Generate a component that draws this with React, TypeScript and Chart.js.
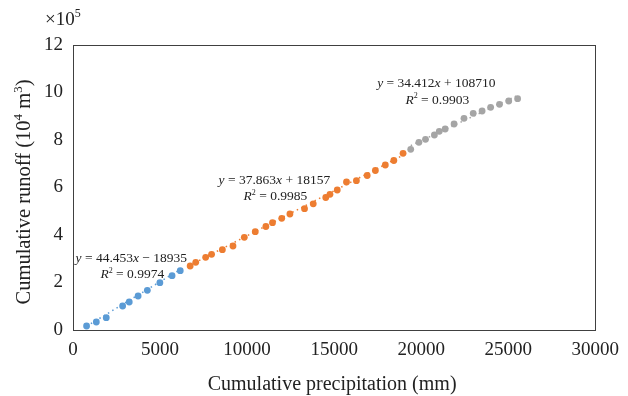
import { useEffect, useRef } from 'react';
import { Chart, registerables } from 'chart.js';

Chart.register(...registerables);

// ---- Data ----
const blueX = [780, 1340, 1910, 2850, 3230, 3740, 4270, 4990, 5690, 6160];
const blueY = [16800, 33700, 51800, 101000, 117900, 143200, 167200, 199200, 228600, 249700];

const orangeX = [6730, 7050, 7620, 7960, 8580, 9190, 9840, 10470, 11080, 11460, 11990, 12460, 13300, 13800, 14520, 14760, 15180, 15710, 16280, 16900, 17370, 17940, 18430, 18960];
const orangeY = [269500, 285100, 306100, 318700, 338100, 353700, 390300, 413900, 435800, 451800, 470300, 488400, 510700, 531400, 557900, 571400, 589500, 623200, 628600, 650500, 671600, 694700, 713700, 744000];

const grayX = [19400, 19870, 20250, 20760, 21040, 21380, 21890, 22460, 22990, 23500, 23990, 24500, 25030, 25540];
const grayY = [760800, 790300, 802900, 821100, 836600, 846300, 867400, 891400, 912400, 922100, 937700, 950300, 964200, 973900];

// Trendline equations (as printed)
const slopes = [44.453, 37.863, 34.412];
const intercepts = [-18935, 18157, 108710];
const r2Values = ['0.9974', '0.9985', '0.9903'];

// Equation label anchors (data coordinates)
const labelAnchorX = [3350, 11570, 20870];
const labelAnchorY = [288000, 615000, 1023000];

const xTickValues = [0, 5000, 10000, 15000, 20000, 25000, 30000];
const yTickLabels = ['0', '2', '4', '6', '8', '10', '12'];

const COLORS = ['#5B9BD5', '#ED7D31', '#A5A5A5'];
const FAMILY = '"Liberation Serif", "Times New Roman", serif';

type Run = { t: string; i?: boolean; sup?: boolean };

function drawRuns(
  ctx: CanvasRenderingContext2D,
  runs: Run[],
  x: number,
  y: number,
  size: number,
  color: string,
  align: 'center' | 'left' = 'center'
) {
  const fontOf = (r: Run) => `${r.i ? 'italic ' : ''}${r.sup ? Math.round(size * 0.62) : size}px ${FAMILY}`;
  let total = 0;
  const widths = runs.map((r) => {
    ctx.font = fontOf(r);
    const w = ctx.measureText(r.t).width;
    total += w;
    return w;
  });
  let cx = align === 'center' ? x - total / 2 : x;
  ctx.fillStyle = color;
  ctx.textAlign = 'left';
  ctx.textBaseline = 'alphabetic';
  runs.forEach((r, k) => {
    ctx.font = fontOf(r);
    ctx.fillText(r.t, cx, r.sup ? y - size * 0.4 : y);
    cx += widths[k];
  });
}

const overlayPlugin = {
  id: 'overlay',
  afterDraw(chart: any) {
    const { ctx, chartArea: a, scales } = chart;
    const xs = scales.x;
    const ys = scales.y;
    ctx.save();
    // frame
    ctx.strokeStyle = '#404040';
    ctx.lineWidth = 1;
    ctx.strokeRect(Math.round(a.left) + 0.5, Math.round(a.top) + 0.5, Math.round(a.right - a.left), Math.round(a.bottom - a.top));

    // equations
    for (let k = 0; k < 3; k++) {
      const px = xs.getPixelForValue(labelAnchorX[k]);
      const py = ys.getPixelForValue(labelAnchorY[k]);
      const b = intercepts[k];
      drawRuns(ctx, [
        { t: 'y', i: true },
        { t: ` = ${slopes[k]}` },
        { t: 'x', i: true },
        { t: b < 0 ? ` \u2212 ${-b}` : ` + ${b}` },
      ], px, py, 13.5, '#222');
      drawRuns(ctx, [
        { t: 'R', i: true },
        { t: '2', sup: true },
        { t: ` = ${r2Values[k]}` },
      ], px + 1, py + 16.5, 13.5, '#222');
    }

    // x title
    drawRuns(ctx, [{ t: 'Cumulative precipitation (mm)' }], (a.left + a.right) / 2 - 2, a.bottom + 60, 20, '#222');

    // y title
    ctx.save();
    ctx.translate(30, (a.top + a.bottom) / 2 + 4.5);
    ctx.rotate(-Math.PI / 2);
    drawRuns(ctx, [
      { t: 'Cumulative runoff (10' },
      { t: '4', sup: true },
      { t: ' m' },
      { t: '3', sup: true },
      { t: ')' },
    ], 0, 0, 20.5, '#222');
    ctx.restore();

    // multiplier
    drawRuns(ctx, [{ t: '\u00d710' }, { t: '5', sup: true }], 45, a.top - 20, 19, '#222', 'left');
    ctx.restore();
  },
};

function pts(xs: number[], ys: number[]) {
  return xs.map((v, i) => ({ x: v, y: ys[i] }));
}

function trend(xs: number[], k: number) {
  const lo = Math.min(...xs);
  const hi = Math.max(...xs);
  return [lo, hi].map((v) => ({ x: v, y: slopes[k] * v + intercepts[k] }));
}

export default function App() {
  const ref = useRef<HTMLCanvasElement>(null);
  useEffect(() => {
    if (!ref.current) return;
    const series = [
      [blueX, blueY],
      [orangeX, orangeY],
      [grayX, grayY],
    ];
    const pointSets = series.map(([xs, ys], k) => ({
      type: 'scatter' as const,
      data: pts(xs, ys),
      backgroundColor: COLORS[k],
      borderColor: COLORS[k],
      pointRadius: 3.4,
      pointBorderWidth: 0,
      showLine: false,
    }));
    const lineSets = series.map(([xs], k) => ({
      type: 'scatter' as const,
      data: trend(xs, k),
      borderColor: COLORS[k],
      backgroundColor: COLORS[k],
      borderWidth: 1.5,
      borderDash: [1.5, 3.5],
      pointRadius: 0,
      showLine: true,
    }));
    const chart = new Chart(ref.current, {
      type: 'scatter',
      data: { datasets: [...pointSets, ...lineSets] as any },
      options: {
        animation: false,
        responsive: true,
        maintainAspectRatio: false,
        layout: { padding: { top: 45, right: 26, left: 0, bottom: 0 } },
        plugins: { legend: { display: false }, tooltip: { enabled: false } },
        scales: {
          x: {
            type: 'linear',
            min: 0,
            max: 30000,
            afterFit: (s: any) => { s.height = 66; },
            afterBuildTicks: (s: any) => { s.ticks = xTickValues.map((v) => ({ value: v })); },
            grid: { display: false, drawTicks: false },
            border: { display: false },
            ticks: {
              padding: 9,
              color: '#222',
              font: { family: FAMILY, size: 19 },
              maxRotation: 0,
              autoSkip: false,
              callback: (v: any) => String(v),
            },
          },
          y: {
            type: 'linear',
            min: 0,
            max: 1200000,
            afterFit: (s: any) => { s.width = 73; },
            afterBuildTicks: (s: any) => { s.ticks = yTickLabels.map((_, i) => ({ value: i * 200000 })); },
            grid: { display: false, drawTicks: false },
            border: { display: false },
            ticks: {
              padding: 10,
              color: '#222',
              font: { family: FAMILY, size: 19 },
              autoSkip: false,
              callback: (_v: any, i: number) => yTickLabels[i],
            },
          },
        },
      },
      plugins: [overlayPlugin],
    });
    return () => chart.destroy();
  }, []);

  return (
    <div style={{ position: 'absolute', left: 0, top: 0, width: 628, height: 396, background: '#fff' }}>
      <canvas ref={ref} />
    </div>
  );
}
